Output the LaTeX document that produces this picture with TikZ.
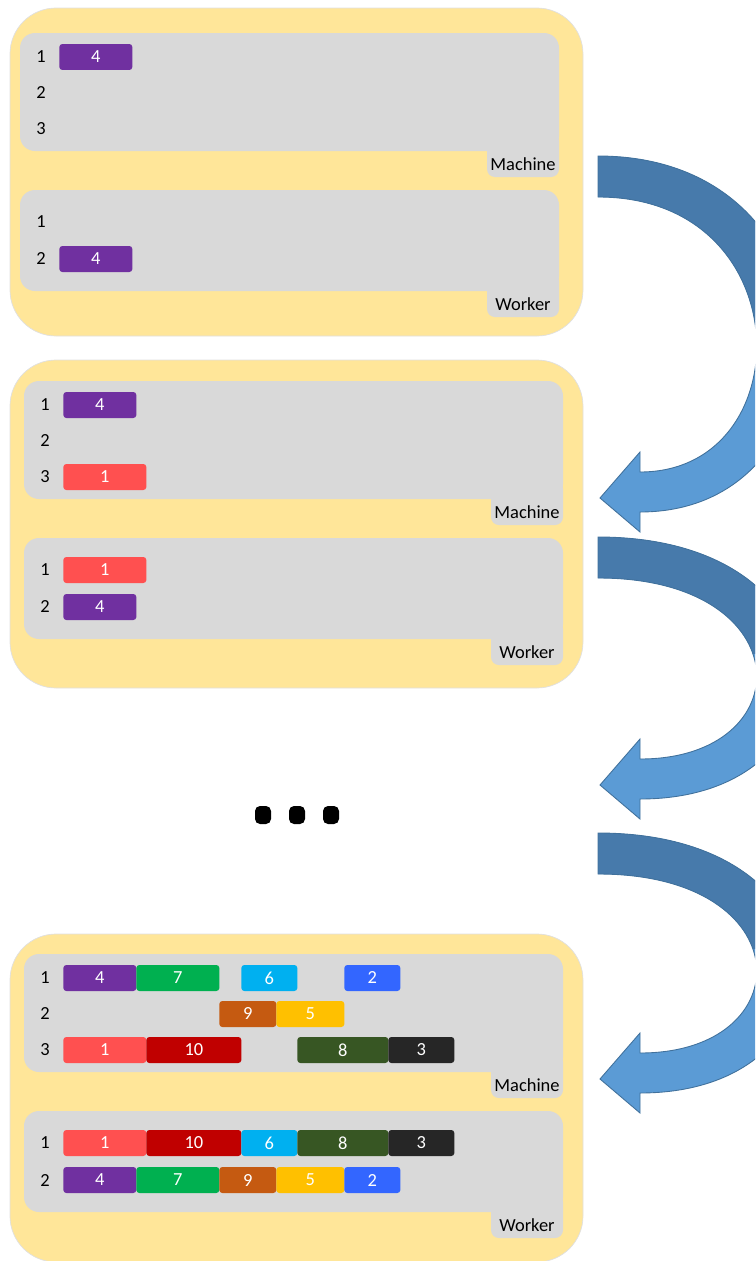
\documentclass[tikz,border=0pt]{standalone}
\usepackage{fontspec}
\setmainfont{Carlito}
\usetikzlibrary{positioning}

\definecolor{panelyellow}{HTML}{FFE699}
\definecolor{boxgray}{HTML}{D9D9D9}
\definecolor{arrowdark}{HTML}{477AAB}
\definecolor{arrowlight}{HTML}{5B9BD5}
\definecolor{arrowedge}{HTML}{41719C}
\definecolor{jpurple}{HTML}{7030A0}
\definecolor{jgreen}{HTML}{00B050}
\definecolor{jcyan}{HTML}{00B0F0}
\definecolor{jblue}{HTML}{3366FF}
\definecolor{jbrown}{HTML}{C55A11}
\definecolor{jgold}{HTML}{FFC000}
\definecolor{jred}{HTML}{FF5050}
\definecolor{jdarkred}{HTML}{C00000}
\definecolor{jdarkgreen}{HTML}{375623}
\definecolor{jblack}{HTML}{262626}

% freccia curva (bordo esterno, punta, bordo interno)
\newcommand{\bentarrowpath}[2]{(598,#1) .. controls (860,#1) and (860,#2+14) .. (640,#2+14)
    -- (640,#2+34) -- (600,#2) -- (640,#2-46) -- (640,#2-26)
    .. controls (802,#2-26) and (802,#1+41) .. (598,#1+41) -- cycle}

\begin{document}
\begin{tikzpicture}[x=0.02cm, y=-0.02cm, font=\fontsize{10.5}{12}\selectfont]
    \tikzset{
        panel/.style={fill=panelyellow, draw=black!12, rounded corners=0.92cm},
        inbox/.style={fill=boxgray, rounded corners=0.3cm},
        tab/.style={fill=boxgray, rounded corners=0.16cm},
        lbl/.style={inner sep=0pt},
        job/.style={
            fill=#1,
            text=white,
            rounded corners=0.06cm,
            minimum height=0.52cm,
            inner sep=0pt,
            anchor=west
        }
    }
    \clip (0,0) rectangle (755,1261);

    % --- Pannelli gialli ---
    \foreach \y in {8, 360, 934}
        \draw[panel] (10,\y) rectangle (583,\y+328);

    % --- Riquadri Machine / Worker ---
    \foreach \p/\sx/\sy in {1/20/33, 2/24/381, 3/24/954} {
        \begin{scope}[shift={(\sx,\sy)}]
            \fill[inbox] (0,0) rectangle (539,118);
            \fill[tab] (467,100) rectangle (539,144);
            \fill[inbox] (0,157) rectangle (539,258);
            \fill[tab] (467,240) rectangle (539,284);
            \node[lbl] (m\p-name) at (503,131) {Machine};
            \node[lbl] (w\p-name) at (503,271) {Worker};
            \foreach \r/\y in {1/24, 2/60, 3/96}
                \node[lbl] (m\p-r\r) at (21,\y) {\r};
            \foreach \r/\y in {1/189, 2/226}
                \node[lbl] (w\p-r\r) at (21,\y) {\r};
        \end{scope}
    }

    % --- Pannello 1 ---
    \begin{scope}[shift={(20,33)}]
        \node[job=jpurple, minimum width={73*0.02cm}] (m1-4) at (39,24) {4};
        \node[job=jpurple, minimum width={73*0.02cm}] (w1-4) at (39,226) {4};
    \end{scope}

    % --- Pannello 2 ---
    \begin{scope}[shift={(24,381)}]
        \node[job=jpurple, minimum width={73*0.02cm}] (m2-4) at (39,24) {4};
        \node[job=jred, minimum width={83*0.02cm}] (m2-1) at (39,96) {1};
        \node[job=jred, minimum width={83*0.02cm}] (w2-1) at (39,189) {1};
        \node[job=jpurple, minimum width={73*0.02cm}] (w2-4) at (39,226) {4};
    \end{scope}

    % --- Puntini ---
    \foreach \x in {263, 297, 331}
        \fill[rounded corners=0.1cm] (\x-8,806) rectangle (\x+8,824);

    % --- Pannello 3 ---
    \begin{scope}[shift={(24,954)}]
        \foreach \a/\b/\y/\n/\c in {39/112/24/4/jpurple, 112/195/24/7/jgreen,
                217/273/24/6/jcyan, 320/376/24/2/jblue,
                195/252/60/9/jbrown, 252/320/60/5/jgold,
                39/122/96/1/jred, 122/217/96/10/jdarkred,
                273/364/96/8/jdarkgreen, 364/430/96/3/jblack}
            \node[job=\c, minimum width={(\b-\a)*0.02cm}] (m3-\n) at (\a,\y) {\n};
        \foreach \a/\b/\y/\n/\c in {39/122/189/1/jred, 122/217/189/10/jdarkred,
                217/273/189/6/jcyan, 273/364/189/8/jdarkgreen, 364/430/189/3/jblack,
                39/112/226/4/jpurple, 112/195/226/7/jgreen, 195/252/226/9/jbrown,
                252/320/226/5/jgold, 320/376/226/2/jblue}
            \node[job=\c, minimum width={(\b-\a)*0.02cm}] (w3-\n) at (\a,\y) {\n};
    \end{scope}

    % --- Frecce curve ---
    \foreach \T/\P in {156/498, 537/785, 833/1079} {
        \fill[arrowlight] \bentarrowpath{\T}{\P};
        \begin{scope}
            \clip (590,\T-5) rectangle (760,{(\T+\P)/2-8});
            \fill[arrowdark] \bentarrowpath{\T}{\P};
        \end{scope}
        \draw[arrowedge, line width=0.5pt] \bentarrowpath{\T}{\P};
    }
\end{tikzpicture}
\end{document}
